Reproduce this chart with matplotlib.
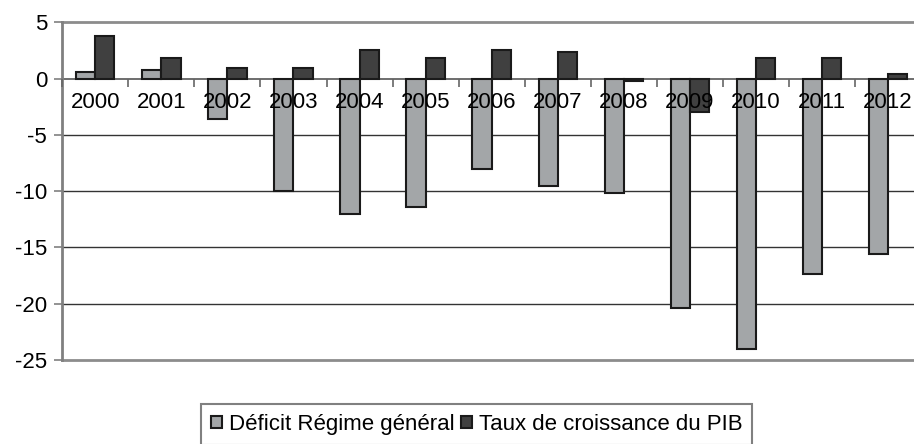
import matplotlib
matplotlib.use("Agg")
import matplotlib.pyplot as plt
import numpy as np

years = ["2000", "2001", "2002", "2003", "2004", "2005", "2006",
         "2007", "2008", "2009", "2010", "2011", "2012"]
deficit = [0.6, 0.75, -3.6, -10.0, -12.0, -11.4, -8.0,
           -9.5, -10.2, -20.4, -24.0, -17.4, -15.6]
croissance = [3.8, 1.85, 0.95, 0.95, 2.5, 1.85, 2.5,
              2.35, -0.2, -3.0, 1.85, 1.85, 0.4]
series_names = ["Déficit Régime général", "Taux de croissance du PIB"]
yticks = [5, 0, -5, -10, -15, -20, -25]

plt.rcParams['font.family'] = ['Liberation Sans', 'DejaVu Sans']
FS = 16

fig = plt.figure(figsize=(9.14, 4.44), dpi=100)
ax = fig.add_axes([62.3 / 914, 1 - 360 / 444, (921 - 62.3) / 914, (360 - 22.3) / 444])

x = np.arange(len(years))
w = 0.29
ax.bar(x - w / 2, deficit, w, color='#A3A6A8', edgecolor='#1a1a1a', linewidth=1.5,
       label=series_names[0], zorder=3)
ax.bar(x + w / 2, croissance, w, color='#404040', edgecolor='#1a1a1a', linewidth=1.5,
       label=series_names[1], zorder=3)

ax.set_xlim(-0.5, len(years) - 0.5)
ax.set_ylim(-25, 5)

# grid lines
for v in [-5, -10, -15, -20]:
    ax.axhline(v, color='#333333', linewidth=1.0, zorder=1)
ax.axhline(-25, color='#8c8c8c', linewidth=2.0, zorder=1, clip_on=False)
ax.axhline(5, color='#8c8c8c', linewidth=2.0, zorder=1, clip_on=False)

for s in ['top', 'right']:
    ax.spines[s].set_visible(False)
ax.spines['left'].set_color('#808080')
ax.spines['left'].set_linewidth(2.0)
ax.spines['bottom'].set_position(('data', 0))
ax.spines['bottom'].set_color('#555555')
ax.spines['bottom'].set_linewidth(1.2)
ax.spines['bottom'].set_zorder(2)

ax.set_yticks(yticks)
ax.set_yticklabels([str(v) for v in yticks], fontsize=FS)
ax.tick_params(axis='y', direction='out', length=6, width=1.2, color='#808080', pad=5)

ax.set_xticks(x)
ax.set_xticklabels(years, fontsize=FS)
ax.set_xticks(np.arange(-0.5, len(years), 1.0), minor=True)
ax.tick_params(axis='x', which='major', length=0, pad=10)
ax.tick_params(axis='x', which='minor', direction='out', length=6, width=1.2, color='#666666')
ax.xaxis.set_zorder(5)

leg = fig.legend(loc='upper left', bbox_to_anchor=(201 / 914, 1 - 404 / 444),
                 ncol=2, fontsize=FS, frameon=True, fancybox=False, shadow=False,
                 handlelength=0.5, handleheight=0.5, handletextpad=0.3,
                 columnspacing=0.3, borderpad=0.45, borderaxespad=0)
leg.get_frame().set_edgecolor('#808080')
leg.get_frame().set_linewidth(1.5)
leg.get_frame().set_alpha(1)

fig.savefig("out.png", dpi=100)
